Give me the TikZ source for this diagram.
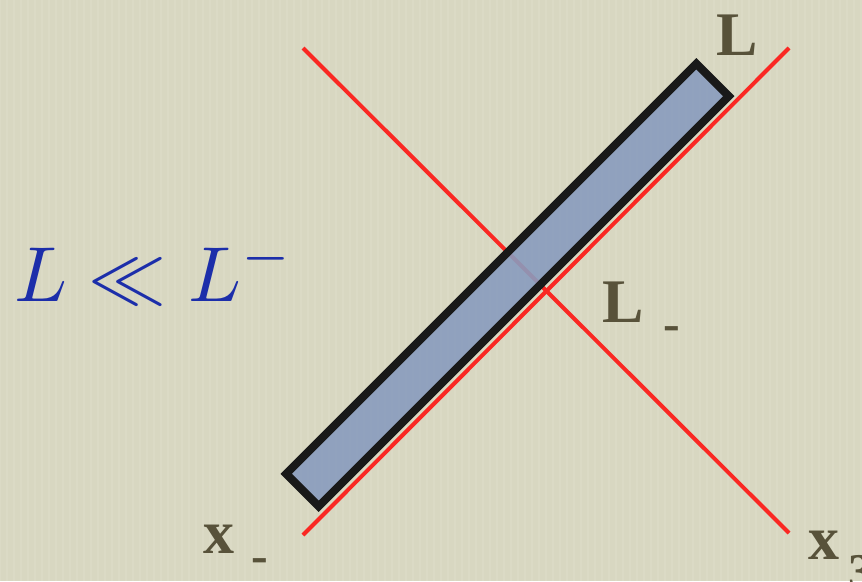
\documentclass[tikz,border=0pt]{standalone}
\usepackage{fontspec}
\newfontfamily\labfont{Liberation Serif}
\definecolor{bg}{RGB}{216,215,193}
\definecolor{redline}{RGB}{250,40,35}
\definecolor{barfill}{RGB}{137,156,190}
\definecolor{labcol}{RGB}{88,82,58}
\definecolor{mathblue}{RGB}{28,46,170}
\tikzset{
  redl/.style={draw=redline, line width=4pt},
  lab/.style={text=labcol, font=\labfont\bfseries\fontsize{62}{62}\selectfont, inner sep=0pt, anchor=base west},
  sublab/.style={text=labcol, font=\labfont\bfseries\fontsize{50}{50}\selectfont, inner sep=0pt, text depth=0pt, anchor=base west},
}
\begin{document}
\begin{tikzpicture}[x=1pt,y=-1pt]
\fill[bg] (0,0) rectangle (862,581);
\useasboundingbox (0,0) rectangle (862,581);
\foreach \i in {0,7,...,862}{\draw[white,opacity=0.08,line width=2pt] (\i,0) -- (\i,581);}
\coordinate (a1) at (303,48);
\coordinate (a2) at (789,533);
\coordinate (b1) at (303,535);
\coordinate (b2) at (789,48);
\draw[redl] (a1) -- (a2);
\draw[redl] (b1) -- (b2);
\node[draw=black!90, line width=8pt, fill=barfill, fill opacity=0.9, draw opacity=1, rotate=45, minimum width=580pt, minimum height=46pt, inner sep=0pt] (bar) at (507.5,285) {};
\node[lab] (Ltop) at (716,55) {L};
\node[lab] (Lm) at (602,322) {L};
\node[sublab] (Lmsub) at (663,340) {-};
\node[lab] (xm) at (203,553) {x};
\node[sublab] (xmsub) at (251,572) {-};
\node[lab] (x3) at (808,559) {x};
\node[sublab] (x3sub) at (848,588) {3};
\node[text=mathblue, inner sep=0pt, anchor=base west] (rel) at (14,301) {\scalebox{7.8}{$L \ll L^{-}$}};
\end{tikzpicture}
\end{document}
